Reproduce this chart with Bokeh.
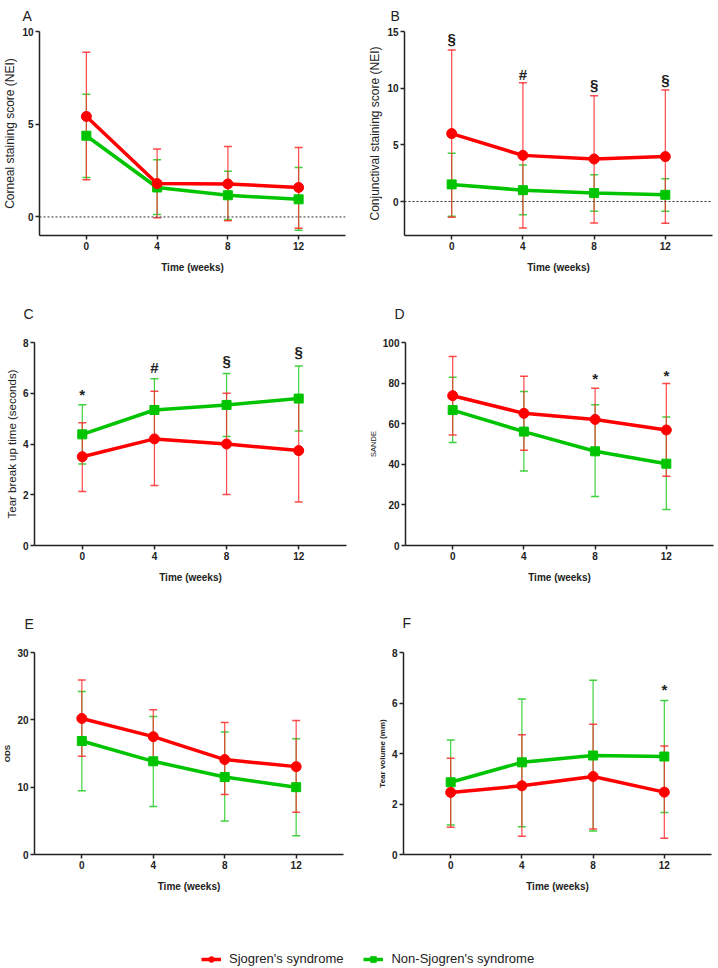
from bokeh.plotting import figure
from bokeh.models import Range1d, Span, FixedTicker, Legend, LegendItem
from bokeh.layouts import column, row
from bokeh.embed import file_html
from bokeh.resources import INLINE
from bokeh.core.properties import value

weeks = [0, 4, 8, 12]
week_ticks = [0, 4, 8, 12]

# ---- Panel A: Corneal staining score (NEI)
a_red = [5.42, 1.80, 1.78, 1.59]
a_red_hi = [8.88, 3.66, 3.80, 3.75]
a_red_lo = [2.00, -0.04, -0.20, -0.61]
a_grn = [4.38, 1.59, 1.17, 0.95]
a_grn_hi = [6.61, 3.08, 2.47, 2.67]
a_grn_lo = [2.13, 0.13, -0.14, -0.72]
a_ticks = [0, 5, 10]
a_sig_x, a_sig_y, a_sig_t = [], [], []

# ---- Panel B: Conjunctival staining score (NEI)
b_red = [5.99, 4.07, 3.75, 3.96]
b_red_hi = [13.37, 10.48, 9.33, 9.83]
b_red_lo = [-1.39, -2.33, -1.89, -1.92]
b_grn = [1.51, 1.00, 0.74, 0.59]
b_grn_hi = [4.25, 3.22, 2.36, 2.00]
b_grn_lo = [-1.30, -1.18, -0.86, -0.86]
b_ticks = [0, 5, 10, 15]
b_sig_x = [0, 4, 8, 12]
b_sig_y = [14.4, 11.2, 10.36, 10.8]
b_sig_t = ["§", "#", "§", "§"]

# ---- Panel C: Tear break up time (seconds)
c_red = [3.50, 4.20, 4.00, 3.74]
c_red_hi = [4.84, 6.08, 6.00, 5.79]
c_red_lo = [2.13, 2.36, 2.01, 1.71]
c_grn = [4.38, 5.34, 5.54, 5.79]
c_grn_hi = [5.55, 6.57, 6.78, 7.07]
c_grn_lo = [3.21, 4.11, 4.30, 4.51]
c_ticks = [0, 2, 4, 6, 8]
c_sig_x = [0, 4, 8, 12]
c_sig_y = [5.95, 7.01, 7.3, 7.66]
c_sig_t = ["*", "#", "§", "§"]

# ---- Panel D: SANDE
d_red = [73.8, 65.1, 62.1, 56.9]
d_red_hi = [93.1, 83.4, 77.5, 79.8]
d_red_lo = [54.4, 46.9, 46.7, 34.1]
d_grn = [66.7, 56.1, 46.4, 40.3]
d_grn_hi = [82.9, 75.9, 69.3, 63.3]
d_grn_lo = [50.8, 36.7, 24.1, 17.7]
d_ticks = [0, 20, 40, 60, 80, 100]
d_sig_x = [8, 12]
d_sig_y = [82.3, 83.9]
d_sig_t = ["*", "*"]

# ---- Panel E: ODS
e_red = [20.2, 17.5, 14.1, 13.05]
e_red_hi = [25.9, 21.5, 19.6, 19.9]
e_red_lo = [14.6, 13.5, 8.9, 6.26]
e_grn = [16.85, 13.84, 11.5, 10.0]
e_grn_hi = [24.2, 20.5, 18.2, 17.2]
e_grn_lo = [9.46, 7.14, 4.98, 2.8]
e_ticks = [0, 10, 20, 30]
e_sig_x, e_sig_y, e_sig_t = [], [], []

# ---- Panel F: Tear volume (mm)
f_red = [2.46, 2.72, 3.09, 2.47]
f_red_hi = [3.81, 4.74, 5.16, 4.30]
f_red_lo = [1.08, 0.72, 1.01, 0.64]
f_grn = [2.86, 3.65, 3.92, 3.88]
f_grn_hi = [4.53, 6.16, 6.90, 6.10]
f_grn_lo = [1.17, 1.10, 0.93, 1.66]
f_ticks = [0, 2, 4, 6, 8]
f_sig_x = [12]
f_sig_y = [6.52]
f_sig_t = ["*"]

series_names = ["Sjogren's syndrome", "Non-Sjogren's syndrome"]

RED = "#ff0000"
RED_EB = "#ff2a2a"
GRN = "#00c400"
GRN_EB = "#2ccc2c"
FONT = "Liberation Sans"


def panel(letter, ylabel, ylab_size, ylab_style, yr, yticks,
          red, red_lo, red_hi, grn, grn_lo, grn_hi,
          sx, sy, st, width, height, b_top, b_bottom, b_left, b_right,
          t_offset, t_standoff, t_lh, zero_line):
    p = figure(width=width, height=height, x_range=Range1d(-2.65, 14.65),
               y_range=Range1d(*yr), output_backend="svg", toolbar_location=None,
               min_border_top=b_top, min_border_bottom=b_bottom,
               min_border_left=b_left, min_border_right=b_right)
    p.title.text = letter
    p.title.text_font = FONT
    p.title.text_font_size = "14px"
    p.title.text_font_style = "normal"
    p.title.text_color = "#222222"
    p.title.text_line_height = t_lh
    p.title.vertical_align = "top"
    p.title.offset = t_offset
    p.title.standoff = t_standoff
    p.outline_line_color = None
    p.grid.visible = False
    p.background_fill_color = "white"

    for ax in (p.xaxis[0], p.yaxis[0]):
        ax.axis_line_width = 1.5
        ax.axis_line_color = "#222222"
        ax.major_tick_line_width = 1.5
        ax.major_tick_line_color = "#222222"
        ax.major_tick_out = 4
        ax.major_tick_in = 0
        ax.minor_tick_line_color = None
        ax.major_label_text_font = FONT
        ax.major_label_text_font_size = "10px"
        ax.major_label_text_font_style = "bold"
        ax.major_label_text_color = "#222222"
        ax.major_label_standoff = 2
        ax.axis_label_text_font = FONT
        ax.axis_label_text_color = "#222222"
    p.xaxis.ticker = FixedTicker(ticks=week_ticks)
    p.yaxis.ticker = FixedTicker(ticks=yticks)
    p.xaxis.axis_label = "Time (weeks)"
    p.xaxis.axis_label_text_font_style = "bold"
    p.xaxis.axis_label_text_font_size = "10px"
    p.xaxis.axis_label_standoff = 9
    p.yaxis.axis_label = ylabel
    p.yaxis.axis_label_text_font_style = ylab_style
    p.yaxis.axis_label_text_font_size = ylab_size
    p.yaxis.axis_label_standoff = 2

    if zero_line:
        p.add_layout(Span(location=0, dimension="width", line_color="#333333",
                          line_width=1, line_dash="2 2"))

    # error bars
    for c, lo, hi, a in ((GRN_EB, grn_lo, grn_hi, 0.9), (RED_EB, red_lo, red_hi, 0.85)):
        p.segment(x0=weeks, y0=lo, x1=weeks, y1=hi, line_color=c, line_width=1.2, line_alpha=a)
        p.scatter(x=weeks, y=lo, marker="dash", size=8, line_color=c, line_width=1.5, line_alpha=a)
        p.scatter(x=weeks, y=hi, marker="dash", size=8, line_color=c, line_width=1.5, line_alpha=a)

    p.line(x=weeks, y=grn, line_color=GRN, line_width=3.5)
    p.scatter(x=weeks, y=grn, marker="square", size=9, fill_color=GRN, line_color=GRN)
    p.line(x=weeks, y=red, line_color=RED, line_width=3.5)
    p.scatter(x=weeks, y=red, marker="circle", size=10, fill_color=RED, line_color=RED)

    if st:
        p.text(x=sx, y=sy, text=st, text_align="center", text_baseline="middle",
               text_font=value(FONT), text_font_size="15px", text_font_style="bold",
               text_color="#222222")
    return p


W = 359
pA = panel("A", "Corneal staining score (NEI)", "12px", "normal", (-1, 10), a_ticks,
           a_red, a_red_lo, a_red_hi, a_grn, a_grn_lo, a_grn_hi,
           a_sig_x, a_sig_y, a_sig_t, W, 280, 31, 45, 36, 14, -17, 12, 0.5, True)
pB = panel("B", "Conjunctival staining score (NEI)", "12px", "normal", (-3, 15), b_ticks,
           b_red, b_red_lo, b_red_hi, b_grn, b_grn_lo, b_grn_hi,
           b_sig_x, b_sig_y, b_sig_t, W, 280, 31, 45, 45, 6, -14, 12, 0.5, True)
pC = panel("C", "Tear break up time (seconds)", "11.5px", "normal", (0, 8), c_ticks,
           c_red, c_red_lo, c_red_hi, c_grn, c_grn_lo, c_grn_hi,
           c_sig_x, c_sig_y, c_sig_t, W, 310, 62, 45, 34, 13, -11, 38, 1.2, False)
pD = panel("D", "SANDE", "7.5px", "normal", (0, 100), d_ticks,
           d_red, d_red_lo, d_red_hi, d_grn, d_grn_lo, d_grn_hi,
           d_sig_x, d_sig_y, d_sig_t, W, 310, 62, 45, 46, 5, -11, 38, 1.2, False)
pE = panel("E", "ODS", "8px", "bold", (0, 30), e_ticks,
           e_red, e_red_lo, e_red_hi, e_grn, e_grn_lo, e_grn_hi,
           e_sig_x, e_sig_y, e_sig_t, W, 310, 61, 46, 33, 16, -10, 38, 1.2, False)
pF = panel("F", "Tear volume (mm)", "8px", "bold", (0, 8), f_ticks,
           f_red, f_red_lo, f_red_hi, f_grn, f_grn_lo, f_grn_hi,
           f_sig_x, f_sig_y, f_sig_t, W, 310, 62, 45, 44, 7, -1, 39, 1.2, False)

# ---- Legend strip (dummy renderers sit outside the visible range)
pL = figure(width=2 * W, height=68, x_range=Range1d(0, 1), y_range=Range1d(0, 1),
            output_backend="svg", toolbar_location=None, x_axis_type=None,
            y_axis_type=None, min_border=0)
pL.outline_line_color = None
pL.grid.visible = False
r1l = pL.line(x=[-2, -1], y=[-2, -1], line_color=RED, line_width=3.5)
r1m = pL.scatter(x=[-1], y=[-1], marker="circle", size=10, fill_color=RED, line_color=RED)
r2l = pL.line(x=[-2, -1], y=[-2, -1], line_color=GRN, line_width=3.5)
r2m = pL.scatter(x=[-1], y=[-1], marker="square", size=9, fill_color=GRN, line_color=GRN)
leg = Legend(items=[LegendItem(label=series_names[0], renderers=[r1l, r1m]),
                    LegendItem(label=series_names[1], renderers=[r2l, r2m])],
             orientation="horizontal", location=(201, 2), padding=2, margin=0,
             spacing=20, glyph_width=20, glyph_height=14, label_standoff=8,
             label_text_font=FONT, label_text_font_size="13px",
             label_text_color="#222222", border_line_color=None,
             background_fill_alpha=0)
pL.add_layout(leg, "center")

layout = column(row(pA, pB), row(pC, pD), row(pE, pF), pL)
open("out.html", "w").write(file_html(layout, INLINE))
